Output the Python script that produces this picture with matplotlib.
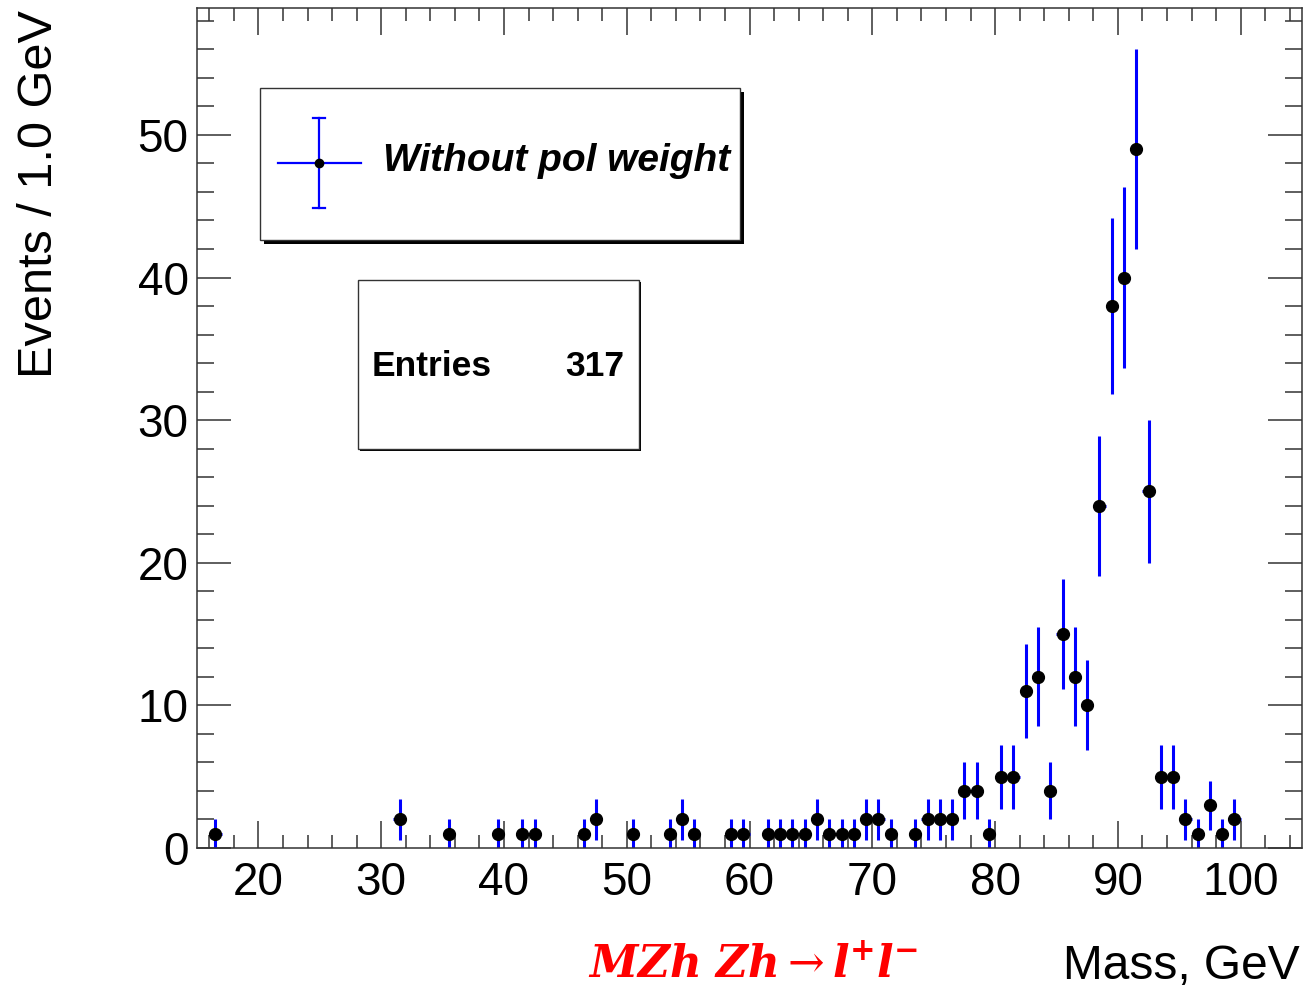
import numpy as np
import matplotlib
matplotlib.use('Agg')
import matplotlib.pyplot as plt
from matplotlib.patches import Rectangle
from matplotlib.lines import Line2D

# bin centres (1 GeV bins) and counts
mass = [16.5, 31.5, 35.5, 39.5, 41.5, 42.5, 46.5, 47.5, 50.5, 53.5, 54.5, 55.5,
        58.5, 59.5, 61.5, 62.5, 63.5, 64.5, 65.5, 66.5, 67.5, 68.5, 69.5, 70.5,
        71.5, 73.5, 74.5, 75.5, 76.5, 77.5, 78.5, 79.5, 80.5, 81.5, 82.5, 83.5,
        84.5, 85.5, 86.5, 87.5, 88.5, 89.5, 90.5, 91.5, 92.5, 93.5, 94.5, 95.5,
        96.5, 97.5, 98.5, 99.5]
counts = [1, 2, 1, 1, 1, 1, 1, 2, 1, 1, 2, 1,
          1, 1, 1, 1, 1, 1, 2, 1, 1, 1, 2, 2,
          1, 1, 2, 2, 2, 4, 4, 1, 5, 5, 11, 12,
          4, 15, 12, 10, 24, 38, 40, 49, 25, 5, 5, 2,
          1, 3, 1, 2]
entries = 317
legend_label = 'Without pol weight'

plt.rcParams['mathtext.fontset'] = 'dejavuserif'

W, H = 1306, 988
fig = plt.figure(figsize=(W / 100, H / 100), dpi=100)
ax = fig.add_axes([197 / W, 1 - 848 / H, (1302 - 197) / W, (848 - 8) / H])

err = np.sqrt(counts)
ax.errorbar(mass, counts, xerr=0.5, yerr=err, fmt='none', ecolor='#0000ff',
            elinewidth=2.2, capsize=0, zorder=2)
ax.plot(mass, counts, 'o', color='black', ms=8.5, zorder=3)

ax.set_xlim(15, 105)
ax.set_ylim(0, 58.9)
ax.set_xticks(np.arange(20, 101, 10))
ax.set_xticks(np.arange(16, 105, 2), minor=True)
ax.set_yticks(np.arange(0, 51, 10))
ax.set_yticks(np.arange(0, 59, 2), minor=True)

tick_font = dict(family='Liberation Sans', size=33)
ax.set_xticklabels([str(v) for v in range(20, 101, 10)], fontdict=tick_font)
ax.set_yticklabels([str(v) for v in range(0, 51, 10)], fontdict=tick_font)

ax.tick_params(which='both', direction='in', top=True, right=True,
               width=1.1, color='#333333')
ax.tick_params(axis='x', which='major', length=19.5, pad=9)
ax.tick_params(axis='x', which='minor', length=9.5)
ax.tick_params(axis='y', which='major', length=24.5, pad=6)
ax.tick_params(axis='y', which='minor', length=12)
for s in ax.spines.values():
    s.set_linewidth(1.1)
    s.set_color('#333333')

# axis titles, ROOT style (at the far end of the axes)
fig.text(40 / W, 1 - 10 / H, 'Events / 1.0 GeV', rotation=90, ha='center',
         va='top', family='Liberation Sans', size=35)
fig.text(1300 / W, 1 - 979 / H, 'Mass, GeV', ha='right', va='baseline',
         family='Liberation Sans', size=34.5)
fig.text(588 / W, 1 - 978 / H,
         r'$\boldsymbol{MZh}\ \boldsymbol{Zh}\rightarrow\boldsymbol{l}^{\mathbf{+}}\boldsymbol{l}^{\mathbf{-}}$',
         ha='left', va='baseline', size=31.5, color='red')

tf = fig.transFigure


def px_rect(x0, y0, x1, y1, **kw):
    return Rectangle((x0 / W, 1 - y1 / H), (x1 - x0) / W, (y1 - y0) / H,
                     transform=tf, **kw)


# legend box with shadow
fig.patches.append(px_rect(264, 92, 744, 244, facecolor='black', edgecolor='none', zorder=5))
fig.patches.append(px_rect(260, 88, 740, 240, facecolor='white', edgecolor='#333333',
                           linewidth=1.0, zorder=6))
fig.lines.append(Line2D([278 / W, 361 / W], [1 - 163 / H, 1 - 163 / H], transform=tf,
                        color='#0000ff', lw=1.6, zorder=7))
fig.lines.append(Line2D([319 / W, 319 / W], [1 - 118 / H, 1 - 208 / H], transform=tf,
                        color='#0000ff', lw=1.6, zorder=7))
for yc in (118, 208):
    fig.lines.append(Line2D([313 / W, 325 / W], [1 - yc / H, 1 - yc / H], transform=tf,
                            color='#0000ff', lw=1.6, zorder=7))
fig.lines.append(Line2D([319 / W], [1 - 163 / H], transform=tf, marker='o',
                        color='black', ms=6, zorder=8))
fig.text(383 / W, 1 - 161 / H, legend_label, ha='left', va='center',
         family='Liberation Sans', weight='bold', style='italic', size=28, zorder=8)

# stats box
fig.patches.append(px_rect(360, 282, 641, 451, facecolor='black', edgecolor='none', zorder=5))
fig.patches.append(px_rect(358, 280, 639, 449, facecolor='white', edgecolor='#333333',
                           linewidth=1.0, zorder=6))
fig.text(372 / W, 1 - 366 / H, 'Entries', ha='left', va='center',
         family='Liberation Sans', weight='bold', size=25.5, zorder=8)
fig.text(624 / W, 1 - 366 / H, str(entries), ha='right', va='center',
         family='Liberation Sans', weight='bold', size=25.5, zorder=8)

fig.savefig('out.png', dpi=100)
